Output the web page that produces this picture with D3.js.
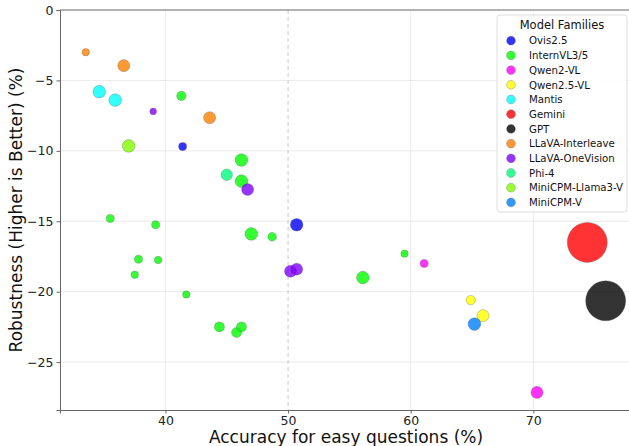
<!DOCTYPE html>
<html>
<head>
<meta charset="utf-8">
<script src="https://cdn.jsdelivr.net/npm/d3@7"></script>
<style>
  body { margin: 0; background: #fff; }
  svg { font-family: "DejaVu Sans", sans-serif; display: block; }
</style>
</head>
<body>
<div id="chart"></div>
<script>
var width = 629, height = 446,
    margin = {top: 10, right: -11, bottom: 36, left: 60};

// model families (legend order) and their colours
var families = ["Ovis2.5", "InternVL3/5", "Qwen2-VL", "Qwen2.5-VL", "Mantis", "Gemini", "GPT",
    "LLaVA-Interleave", "LLaVA-OneVision", "Phi-4", "MiniCPM-Llama3-V", "MiniCPM-V"];
var familyColors = ["#0000ff", "#00ff00", "#ff00ff", "#ffff00", "#00ffff", "#ff0000", "#000000",
    "#ff8000", "#8000ff", "#00ff80", "#80ff00", "#0080ff"];

// one entry per model: family index, accuracy on easy questions, robustness, model size (marker)
var pointFamily = [0, 0,
    1, 1, 1, 1, 1, 1, 1, 1, 1, 1, 1, 1, 1, 1, 1, 1,
    2, 2, 3, 3, 4, 4, 5, 6, 7, 7, 7, 8, 8, 8, 8, 9, 10, 11];
var accEasy = [41.4, 50.7,
    41.3, 46.2, 46.2, 35.5, 39.2, 47.0, 48.7, 37.8, 39.4, 37.5, 41.7, 44.4, 45.8, 46.2, 56.1, 59.5,
    61.1, 70.3, 64.9, 65.9, 34.6, 35.9, 74.4, 75.9, 33.5, 36.6, 43.6, 39.0, 46.7, 50.2, 50.7, 45.0, 37.0, 65.2];
var robustness = [-9.7, -15.25,
    -6.1, -10.65, -12.15, -14.8, -15.25, -15.9, -16.1, -17.7, -17.75, -18.8, -20.2, -22.5, -22.9, -22.5, -19.0, -17.3,
    -18.0, -27.15, -20.6, -21.7, -5.8, -6.4, -16.5, -20.65, -3.0, -3.95, -7.65, -7.2, -12.75, -18.55, -18.4, -11.7, -9.65, -22.3];
var modelSize = [2.6, 6.4,
    3.5, 6.4, 6.4, 2.6, 2.6, 6.4, 3.0, 2.6, 2.2, 2.2, 2.2, 4.0, 4.0, 4.0, 6.4, 2.2,
    2.6, 5.8, 3.5, 5.8, 6.4, 6.4, 64, 64, 2.2, 5.8, 5.8, 1.8, 5.8, 5.8, 5.8, 5.2, 6.4, 6.4];

var xTicks = [40, 50, 60, 70],
    yTicks = [0, -5, -10, -15, -20, -25];

var points = accEasy.map((d, i) => ({fam: pointFamily[i], x: d, y: robustness[i], size: modelSize[i]}));

var innerW = width - margin.left - margin.right,
    innerH = height - margin.top - margin.bottom;

var svg = d3.select("#chart").append("svg").attr("width", width).attr("height", height),
    g = svg.append("g").attr("transform", "translate(" + margin.left + "," + margin.top + ")");

var x = d3.scaleLinear().domain([31.4, 78.7]).range([0, innerW]),
    y = d3.scaleLinear().domain([-28.4, 0]).range([innerH, 0]),
    r = d3.scaleSqrt().domain([0, 64]).range([0, 20]);

// grid
g.append("g").selectAll("line").data(xTicks.filter(t => t != 50)).enter().append("line")
    .attr("x1", d => x(d)).attr("x2", d => x(d)).attr("y1", 0).attr("y2", innerH)
    .style("stroke", "#e6e6e6").style("stroke-width", 0.8);
g.append("g").selectAll("line").data(yTicks.filter(t => t != 0)).enter().append("line")
    .attr("x1", 0).attr("x2", innerW).attr("y1", d => y(d)).attr("y2", d => y(d))
    .style("stroke", "#e6e6e6").style("stroke-width", 0.8);

// reference line at 50%
g.append("line")
    .attr("x1", x(50)).attr("x2", x(50)).attr("y1", 0).attr("y2", innerH)
    .style("stroke", "#bbbbbb").style("stroke-width", 0.8).style("stroke-dasharray", "4,3");

// axes
var xAxis = g.append("g").attr("transform", "translate(0," + innerH + ")")
    .call(d3.axisBottom(x).tickValues(xTicks).tickSizeOuter(0).tickSize(3.5).tickPadding(3));
var yAxis = g.append("g")
    .call(d3.axisLeft(y).tickValues(yTicks).tickSizeOuter(0).tickSize(3.5).tickPadding(3)
        .tickFormat(d => d < 0 ? "\u2212" + Math.abs(d) : d));
[xAxis, yAxis].forEach(a => {
    a.selectAll("path").style("stroke", "#666").style("stroke-width", 1);
    a.selectAll("line").style("stroke", "#666");
    a.selectAll("text").style("font-size", "12.5px").style("fill", "#222")
        .style("font-family", "DejaVu Sans, sans-serif");
});
g.append("line").attr("x1", 0).attr("x2", innerW).attr("y1", 0).attr("y2", 0)
    .style("stroke", "#666").style("stroke-width", 1);

// points
g.append("g").selectAll("circle").data(points).enter().append("circle")
    .attr("cx", d => x(d.x)).attr("cy", d => y(d.y)).attr("r", d => r(d.size))
    .style("fill", d => familyColors[d.fam]).style("fill-opacity", 0.8)
    .style("stroke", "#555").style("stroke-opacity", 0.6).style("stroke-width", 0.5);

// axis titles
svg.append("text")
    .attr("x", 346).attr("y", 443)
    .style("text-anchor", "middle").style("font-size", "17px").style("fill", "#111")
    .text("Accuracy for easy questions (%)");
svg.append("text")
    .attr("transform", "translate(22,210) rotate(-90)")
    .style("text-anchor", "middle").style("font-size", "17px").style("fill", "#111")
    .text("Robustness (Higher is Better) (%)");

// legend
var legendG = svg.append("g").attr("transform", "translate(497,15)");
legendG.append("rect")
    .attr("width", 130).attr("height", 197).attr("rx", 3)
    .style("fill", "#fff").style("fill-opacity", 0.85)
    .style("stroke", "#d6d6d6").style("stroke-width", 0.8);
legendG.append("text")
    .attr("x", 65).attr("y", 14)
    .style("text-anchor", "middle").style("font-size", "11.5px").style("fill", "#111")
    .text("Model Families");
var rowH = 14.7;
legendG.append("g").selectAll("circle").data(families).enter().append("circle")
    .attr("cx", 14).attr("cy", (d, i) => 25.7 + i * rowH).attr("r", 4.4)
    .style("fill", (d, i) => familyColors[i]).style("fill-opacity", 0.8)
    .style("stroke", "#555").style("stroke-opacity", 0.6).style("stroke-width", 0.5);
legendG.append("g").selectAll("text").data(families).enter().append("text")
    .attr("x", 32).attr("y", (d, i) => 25.7 + i * rowH + 3.7)
    .style("font-size", "10.2px").style("fill", "#111")
    .text(d => d);
</script>
</body>
</html>
